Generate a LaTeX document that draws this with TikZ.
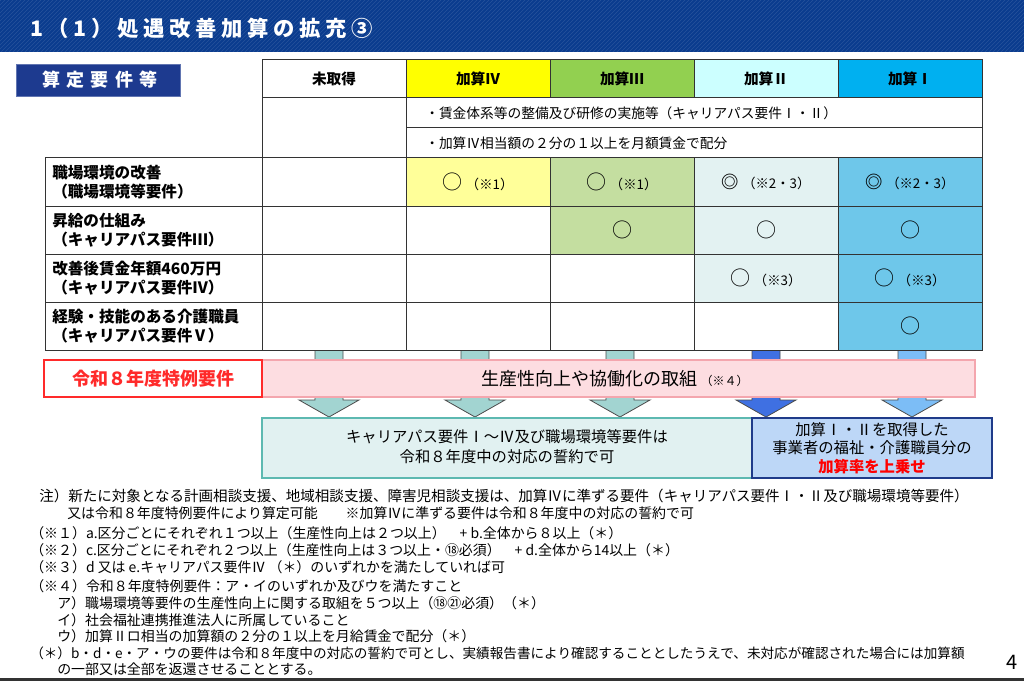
\documentclass[tikz,border=0pt]{standalone}
\usepackage{fontspec}
\setmainfont{Noto Sans CJK JP}
\usetikzlibrary{patterns}

\definecolor{barblue}{HTML}{0A3C8E}
\definecolor{tagblue}{HTML}{1D3A8F}
\definecolor{headIV}{HTML}{FFFF00}
\definecolor{cellIV}{HTML}{FFFF99}
\definecolor{headIII}{HTML}{92D050}
\definecolor{cellIII}{HTML}{C4DEA0}
\definecolor{headII}{HTML}{CCFFFF}
\definecolor{cellII}{HTML}{E3F2F2}
\definecolor{headI}{HTML}{00B0F0}
\definecolor{cellI}{HTML}{6EC7EA}
\definecolor{arrowteal}{HTML}{A2D4D1}
\definecolor{arrowdeep}{HTML}{3F70E2}
\definecolor{arrowsky}{HTML}{7CBDF6}
\definecolor{specialred}{HTML}{FF2A2A}
\definecolor{bandpink}{HTML}{FDDDE1}
\definecolor{bandedge}{HTML}{F4A6AE}
\definecolor{pledgefill}{HTML}{E1F1F1}
\definecolor{pledgeedge}{HTML}{5DB9B1}
\definecolor{upliftfill}{HTML}{BDD7F7}
\definecolor{upliftedge}{HTML}{1F3B8A}

\begin{document}
\begin{tikzpicture}[x=0.75pt, y=-0.75pt,
	every node/.style={inner sep=0pt},
	gridline/.style={draw=black!80, line width=0.75pt},
	head/.style={font=\bfseries\fontsize{11}{13}\selectfont},
	req/.style={anchor=west, align=left, font=\bfseries\fontsize{11.7}{14.3}\selectfont},
	ok/.style={font=\fontsize{15}{15}\selectfont},
	blockarrow/.style={draw=black!70, line width=0.6pt},
	note/.style={anchor=west, font=\fontsize{10.45}{13}\selectfont}
]

	\useasboundingbox (0,0) rectangle (1024,681);

	\fill[barblue] (0,0) rectangle (1024,52);
	\fill[pattern=north east lines, pattern color=barblue!88!white] (0,0) rectangle (1024,52);
	\node[anchor=west, text=white, font=\bfseries\fontsize{16}{16}\selectfont\addfontfeature{LetterSpace=22}] (title) at (30,28) {1（1）処遇改善加算の拡充③};

	\filldraw[fill=tagblue, draw=tagblue!70!white] (16,64) rectangle (180,96);
	\node[text=white, font=\bfseries\fontsize{13.5}{13.5}\selectfont\addfontfeature{LetterSpace=35}] (tag) at (100,80) {算定要件等};

	\coordinate (A0) at (329,350);
	\coordinate (A1) at (475,350);
	\coordinate (A2) at (620,350);
	\coordinate (A3) at (766,350);
	\coordinate (A4) at (912,350);

	\filldraw[blockarrow, fill=arrowteal] (A0) ++(-14,0) -- ++(0,50) -- ++(-16,0) -- ++(30,17) -- ++(30,-17) -- ++(-16,0) -- ++(0,-50);
	\filldraw[blockarrow, fill=arrowteal] (A1) ++(-14,0) -- ++(0,50) -- ++(-16,0) -- ++(30,17) -- ++(30,-17) -- ++(-16,0) -- ++(0,-50);
	\filldraw[blockarrow, fill=arrowteal] (A2) ++(-14,0) -- ++(0,50) -- ++(-16,0) -- ++(30,17) -- ++(30,-17) -- ++(-16,0) -- ++(0,-50);
	\filldraw[blockarrow, fill=arrowdeep] (A3) ++(-14,0) -- ++(0,50) -- ++(-16,0) -- ++(30,17) -- ++(30,-17) -- ++(-16,0) -- ++(0,-50);
	\filldraw[blockarrow, fill=arrowsky] (A4) ++(-14,0) -- ++(0,50) -- ++(-16,0) -- ++(30,17) -- ++(30,-17) -- ++(-16,0) -- ++(0,-50);

	\fill[headIV] (406,60) rectangle (550,98);
	\fill[headIII] (550,60) rectangle (694,98);
	\fill[headII] (694,60) rectangle (838,98);
	\fill[headI] (838,60) rectangle (982,98);
	\fill[cellIV] (406,158) rectangle (550,206);
	\fill[cellIII] (550,158) rectangle (694,254);
	\fill[cellII] (694,158) rectangle (838,302);
	\fill[cellI] (838,158) rectangle (982,350);

	\draw[gridline] (262,60) rectangle (982,98);
	\draw[gridline] (45,158) rectangle (982,350);
	\draw[gridline] (262,98) -- (262,158) (982,98) -- (982,158);
	\draw[gridline] (406,60) -- (406,350) (406,128) -- (982,128);
	\draw[gridline] (550,60) -- (550,98) (694,60) -- (694,98) (838,60) -- (838,98);
	\draw[gridline] (550,158) -- (550,350) (694,158) -- (694,350) (838,158) -- (838,350);
	\draw[gridline] (45,206) -- (982,206) (45,254) -- (982,254) (45,302) -- (982,302);
	\draw[gridline] (262,158) -- (262,350);

	\node[head] (h0) at (334,79) {未取得};
	\node[head] (h4) at (478,79) {加算Ⅳ};
	\node[head] (h3) at (622,79) {加算Ⅲ};
	\node[head] (h2) at (766,79) {加算Ⅱ};
	\node[head] (h1) at (910,79) {加算Ⅰ};

	\node[anchor=west, font=\fontsize{10.3}{12}\selectfont] (wage) at (425,113) {・賃金体系等の整備及び研修の実施等（キャリアパス要件Ⅰ・Ⅱ）};
	\node[anchor=west, font=\fontsize{10.3}{12}\selectfont] (share) at (425,143) {・加算Ⅳ相当額の２分の１以上を月額賃金で配分};

	\node[req] (r1) at (52,182) {職場環境の改善\\（職場環境等要件）};
	\node[req] (r2) at (52,230) {昇給の仕組み\\（キャリアパス要件Ⅲ）};
	\node[req] (r3) at (52,278) {改善後賃金年額460万円\\（キャリアパス要件Ⅳ）};
	\node[req] (r4) at (52,326) {経験・技能のある介護職員\\（キャリアパス要件Ⅴ）};

	\node[ok] (c14) at (478,182) {○\,{\fontsize{10}{10}\selectfont（※1）}};
	\node[ok] (c13) at (622,182) {○\,{\fontsize{10}{10}\selectfont（※1）}};
	\node[ok] (c12) at (766,182) {{\fontsize{13}{13}\selectfont\bfseries ◎}\,{\fontsize{10}{10}\selectfont（※2・3）}};
	\node[ok] (c11) at (910,182) {{\fontsize{13}{13}\selectfont\bfseries ◎}\,{\fontsize{10}{10}\selectfont（※2・3）}};
	\node[ok] (c23) at (622,230) {○};
	\node[ok] (c22) at (766,230) {○};
	\node[ok] (c21) at (910,230) {○};
	\node[ok] (c32) at (766,278) {○\,{\fontsize{10}{10}\selectfont（※3）}};
	\node[ok] (c31) at (910,278) {○\,{\fontsize{10}{10}\selectfont（※3）}};
	\node[ok] (c41) at (910,326) {○};

	\filldraw[fill=bandpink, draw=bandedge, line width=0.9pt] (262,360) rectangle (975,397);
	\node[font=\fontsize{13.5}{13.5}\selectfont] (band) at (615,379) {生産性向上や協働化の取組\,{\fontsize{9}{9}\selectfont（※４）}};

	\filldraw[fill=white, draw=specialred, line width=1.5pt] (44,360) rectangle (262,397);
	\node[text=specialred, font=\bfseries\fontsize{13.5}{13.5}\selectfont] (special) at (153,379) {令和８年度特例要件};

	\filldraw[fill=pledgefill, draw=pledgeedge, line width=2pt] (262,418) rectangle (752,478);
	\node[align=center, font=\fontsize{11.5}{15}\selectfont] (pledge) at (507,447) {キャリアパス要件Ⅰ～Ⅳ及び職場環境等要件は\\令和８年度中の対応の誓約で可};

	\filldraw[fill=upliftfill, draw=upliftedge, line width=2pt] (752,418) rectangle (992,478);
	\node[align=center, font=\fontsize{11.5}{14}\selectfont] (uplift) at (872,448) {加算Ⅰ・Ⅱを取得した\\事業者の福祉・介護職員分の\\{\color{red}\bfseries 加算率を上乗せ}};

	\node[note, font=\fontsize{10.9}{13}\selectfont] (n1) at (39,496) {注）新たに対象となる計画相談支援、地域相談支援、障害児相談支援は、加算Ⅳに準ずる要件（キャリアパス要件Ⅰ・Ⅱ及び職場環境等要件）};
	\node[note] (n2) at (67,513) {又は令和８年度特例要件により算定可能　　※加算Ⅳに準ずる要件は令和８年度中の対応の誓約で可};
	\node[note] (n3) at (30,533) {（※１）a.区分ごとにそれぞれ１つ以上（生産性向上は２つ以上）　+ b.全体から８以上（＊）};
	\node[note] (n4) at (30,550) {（※２）c.区分ごとにそれぞれ２つ以上（生産性向上は３つ以上・⑱必須）　+ d.全体から14以上（＊）};
	\node[note] (n5) at (30,567) {（※３）d 又は e.キャリアパス要件Ⅳ （＊）のいずれかを満たしていれば可};
	\node[note] (n6) at (30,586) {（※４）令和８年度特例要件：ア・イのいずれか及びウを満たすこと};
	\node[note] (n7) at (57,603) {ア）職場環境等要件の生産性向上に関する取組を５つ以上（⑱㉑必須）（＊）};
	\node[note] (n8) at (57,620) {イ）社会福祉連携推進法人に所属していること};
	\node[note] (n9) at (57,636) {ウ）加算Ⅱロ相当の加算額の２分の１以上を月給賃金で配分（＊）};
	\node[note, font=\fontsize{10.2}{13}\selectfont] (n10) at (30,653) {（＊）b・d・e・ア・ウの要件は令和８年度中の対応の誓約で可とし、実績報告書により確認することとしたうえで、未対応が確認された場合には加算額};
	\node[note] (n11) at (57,669) {の一部又は全部を返還させることとする。};

	\node[font=\fontsize{15}{15}\selectfont] (pageno) at (1012,662) {4};

	\fill[black!80] (0,678) rectangle (1024,681);

\end{tikzpicture}
\end{document}
